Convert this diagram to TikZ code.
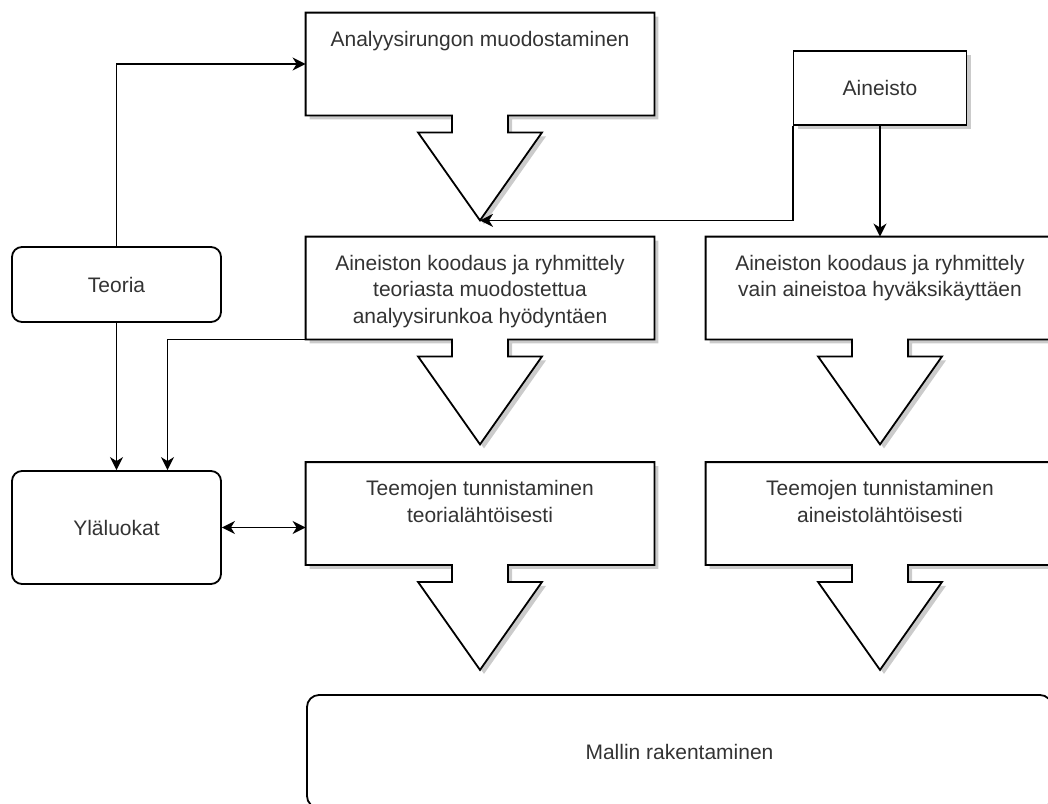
\documentclass[tikz,border=0pt]{standalone}
\usepackage{fontspec}
\setmainfont{Liberation Sans}
\usepackage{tikz}
\usetikzlibrary{calc, arrows.meta, shadows}

\begin{document}
\begin{tikzpicture}[x=0.5pt, y=-0.5pt, >={Stealth[length=6.5pt, width=6.5pt, inset=2pt]},
    every node/.style={font=\fontsize{10.5pt}{13.25pt}\selectfont, text=black!80},
    shade/.style={drop shadow={shadow xshift=2pt, shadow yshift=-2pt, opacity=0.45, fill=black!45}},
    callbody/.style={minimum width=174pt, minimum height=51pt, inner sep=0pt},
    callout/.style={draw, line width=0.9pt, fill=white, shade},
    calltext/.style={anchor=north, align=center, inner sep=0pt},
    plainbox/.style={draw, line width=0.9pt, fill=white, shade},
    roundbox/.style={draw, line width=0.9pt, rounded corners=5pt, align=center},
    link/.style={->, line width=0.9pt}]
    \useasboundingbox (0,0) rectangle (1048,803);

    % bodies of the arrow boxes
    \node[callbody] (anal) at (480,64) {};
    \node[callbody] (koodT) at (480,288) {};
    \node[callbody] (koodA) at (880,288) {};
    \node[callbody] (teemT) at (480,513.5) {};
    \node[callbody] (teemA) at (880,513.5) {};

    \foreach \n in {anal, koodT, koodA, teemT, teemA}
        \draw[callout] (\n.north west) -- (\n.north east) -- (\n.south east)
            -- ($(\n.south)+(28,0)$) -- ++(0,17) -- ++(34,0) -- ++(-62,88)
            -- ++(-62,-88) -- ++(34,0) -- ++(0,-17) -- (\n.south west) -- cycle;
    \coordinate (analtip) at ($(anal.south)+(0,105)$);

    \node[calltext] (analtxt) at ([yshift=-9pt]anal.north) {Analyysirungon muodostaminen};
    \node[calltext] (koodTtxt) at ([yshift=-9pt]koodT.north) {Aineiston koodaus ja ryhmittely\\teoriasta muodostettua\\analyysirunkoa hyödyntäen};
    \node[calltext] (koodAtxt) at ([yshift=-9pt]koodA.north) {Aineiston koodaus ja ryhmittely\\vain aineistoa hyväksikäyttäen};
    \node[calltext] (teemTtxt) at ([yshift=-9pt]teemT.north) {Teemojen tunnistaminen\\teorialähtöisesti};
    \node[calltext] (teemAtxt) at ([yshift=-9pt]teemA.north) {Teemojen tunnistaminen\\aineistolähtöisesti};

    \node[plainbox, minimum width=86.5pt, minimum height=37pt] (aineisto) at (880,88) {Aineisto};
    \node[roundbox, minimum width=104.5pt, minimum height=37.5pt] (teoria) at (116.5,284.5) {Teoria};
    \node[roundbox, minimum width=104.5pt, minimum height=56.5pt] (ylaluokat) at (116.5,527.5) {Yläluokat};
    \node[roundbox, minimum width=372.5pt, minimum height=56.5pt, rounded corners=6pt] (malli) at (679.5,751.5) {Mallin rakentaminen};

    % connectors
    \draw[link] (teoria.north) |- (anal.west);
    \draw[link] (aineisto.south west) |- (analtip);
    \draw[link] (aineisto) -- (koodA);
    \draw[link] (teoria) -- (ylaluokat);
    \draw[link] (koodT.south west) -| ([xshift=25.5pt]ylaluokat.north);
    \draw[link, <->] (ylaluokat.east) -- (ylaluokat.east -| teemT.west);
\end{tikzpicture}
\end{document}
